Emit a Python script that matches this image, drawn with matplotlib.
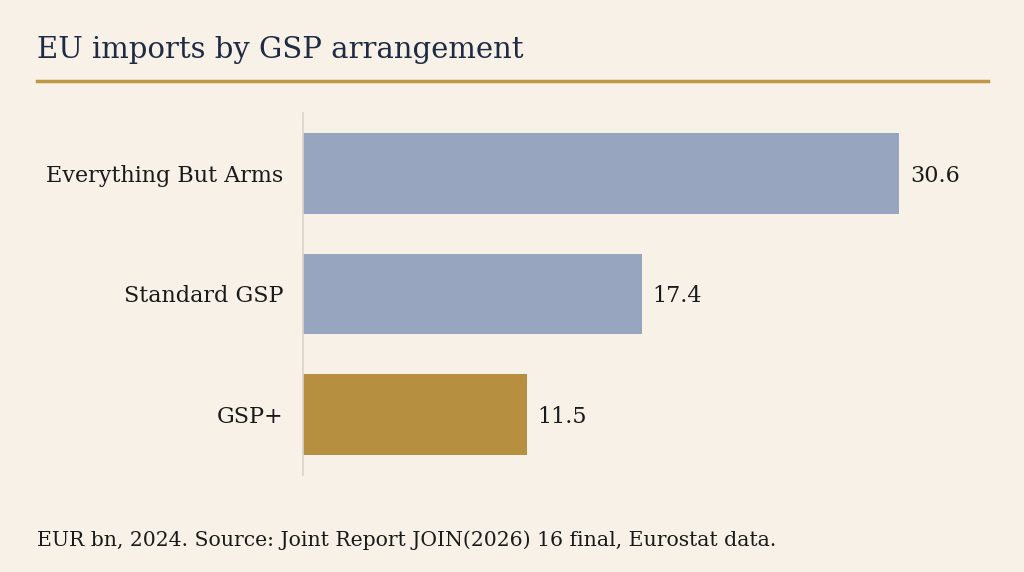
import matplotlib
matplotlib.use("Agg")
import matplotlib.pyplot as plt
from matplotlib.lines import Line2D

categories = ["Everything But Arms", "Standard GSP", "GSP+"]
values = [30.6, 17.4, 11.5]
value_labels = ["30.6", "17.4", "11.5"]
bar_colors = ["#97A5BE", "#97A5BE", "#B68F40"]

title = "EU imports by GSP arrangement"
footer = "EUR bn, 2024. Source: Joint Report JOIN(2026) 16 final, Eurostat data."

BG = "#F7F1E7"
TEXT = "#1A1A1A"
TITLE_C = "#1F2A44"
GOLD = "#BF9745"

plt.rcParams["font.family"] = ["DejaVu Serif"]

W, H = 1024, 572
fig = plt.figure(figsize=(W / 100, H / 100), dpi=100, facecolor=BG)

# axes: left 303px, right 988px, top 113px, bottom 475px
ax = fig.add_axes([303 / W, 1 - 475 / H, (988 - 303) / W, (475 - 113) / H])
ax.set_facecolor(BG)

ypos = list(range(len(categories)))
ax.barh(ypos, values, height=0.67, color=bar_colors, edgecolor="none")
ax.set_ylim(2.5, -0.5)
ax.set_xlim(0, 685 / 19.48)

for y, v, lab in zip(ypos, values, value_labels):
    ax.text(v + 0.55, y + 0.02, lab, va="center", ha="left", fontsize=16, color=TEXT)

ax.set_yticks(ypos)
ax.set_yticklabels(categories, fontsize=16, color=TEXT)
ax.tick_params(axis="y", length=0, pad=14)
ax.set_xticks([])
for s in ["top", "right", "bottom"]:
    ax.spines[s].set_visible(False)
ax.spines["left"].set_color("#D9D4CC")
ax.spines["left"].set_linewidth(1.2)

fig.text(37 / W, 1 - 50 / H, title, fontsize=21, color=TITLE_C, va="center", ha="left")
fig.add_artist(Line2D([37 / W, 988 / W], [1 - 81 / H, 1 - 81 / H], color=GOLD, lw=2.5,
                      transform=fig.transFigure))
fig.text(37 / W, 1 - 540 / H, footer, fontsize=14.7, color=TEXT, va="center", ha="left")

fig.savefig("out.png", dpi=100, facecolor=BG)
